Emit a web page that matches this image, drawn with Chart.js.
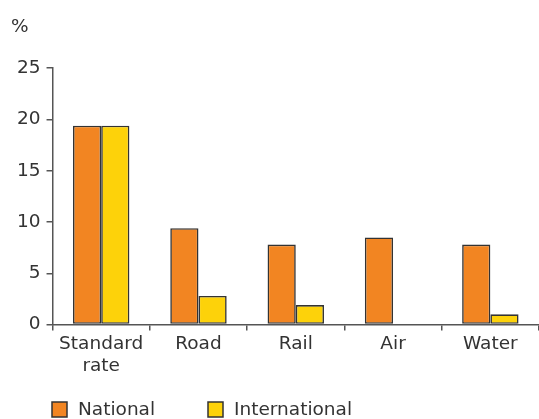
<!DOCTYPE html>
<html>
<head>
<meta charset="utf-8">
<script src="https://cdn.jsdelivr.net/npm/chart.js@4/dist/chart.umd.min.js"></script>
<style>
  html, body { margin: 0; padding: 0; background: #fff; }
  #wrap { width: 539px; height: 419px; }
</style>
</head>
<body>
<div id="wrap"><canvas id="js--chart"></canvas></div>
<script>
const categories = [
    ["Standard", "rate"],
    "Road",
    "Rail",
    "Air",
    "Water"
];

const national = [19.4, 9.4, 7.8, 8.5, 7.8];
const international = [19.4, 2.8, 1.9, null, 1.0];

const yTicks = [0, 5, 10, 15, 20, 25];

const textColor = "#333333";
const axisColor = "#555555";
const fontFamily = "'DejaVu Sans', Verdana, sans-serif";
const fontSize = 18.5;

Chart.defaults.font.family = fontFamily;
Chart.defaults.font.size = fontSize;
Chart.defaults.color = textColor;

// legend drawn by hand so it can sit under the axis like the original
const bottomLegend = {
    id: "bottomLegend",
    afterDraw: function (chart) {
        const ctx = chart.ctx;
        const xs = [52, 208];
        const y = 402;
        ctx.save();
        ctx.font = fontSize + "px " + fontFamily;
        ctx.textBaseline = "middle";
        chart.data.datasets.forEach(function (ds, i) {
            ctx.fillStyle = ds.backgroundColor;
            ctx.fillRect(xs[i], y, 15, 15);
            ctx.strokeStyle = ds.borderColor;
            ctx.lineWidth = 1.5;
            ctx.strokeRect(xs[i], y, 15, 15);
            ctx.fillStyle = textColor;
            ctx.fillText(ds.label, xs[i] + 26, y + 8.5);
        });
        ctx.restore();
    }
};

const data = {
    labels: categories,
    datasets: [
        {
            label: "National",
            data: national,
            backgroundColor: "#F28522",
            borderColor: "#333333",
            borderWidth: 1.6,
            borderSkipped: false
        },
        {
            label: "International",
            data: international,
            backgroundColor: "#FDD20A",
            borderColor: "#333333",
            borderWidth: 1.6,
            borderSkipped: false
        }
    ]
};

const config = {
    type: "bar",
    data: data,
    plugins: [bottomLegend],
    options: {
        responsive: true,
        maintainAspectRatio: false,
        animation: false,
        layout: { padding: { left: 11, right: 0, top: 10, bottom: 40 } },
        datasets: {
            bar: { categoryPercentage: 0.58, barPercentage: 1.0 }
        },
        plugins: {
            title: {
                display: true,
                text: "%",
                align: "start",
                font: { size: fontSize, weight: "normal" },
                padding: { top: 6, bottom: 30 }
            },
            legend: { display: false },
            tooltip: { enabled: false }
        },
        scales: {
            x: {
                border: { color: axisColor, width: 1.5 },
                grid: {
                    display: true,
                    drawOnChartArea: false,
                    drawTicks: true,
                    tickLength: 6,
                    color: axisColor,
                    lineWidth: 1.5
                },
                ticks: { color: textColor, padding: 2, maxRotation: 0 }
            },
            y: {
                min: 0,
                max: 25,
                afterBuildTicks: function (axis) {
                    axis.ticks = yTicks.map(function (v) { return { value: v }; });
                },
                border: { color: axisColor, width: 1.5 },
                grid: {
                    display: true,
                    drawOnChartArea: false,
                    drawTicks: true,
                    tickLength: 6,
                    color: axisColor,
                    lineWidth: 1.5
                },
                ticks: { color: textColor, padding: 6 }
            }
        }
    }
};

new Chart(document.getElementById("js--chart"), config);
</script>
</body>
</html>
